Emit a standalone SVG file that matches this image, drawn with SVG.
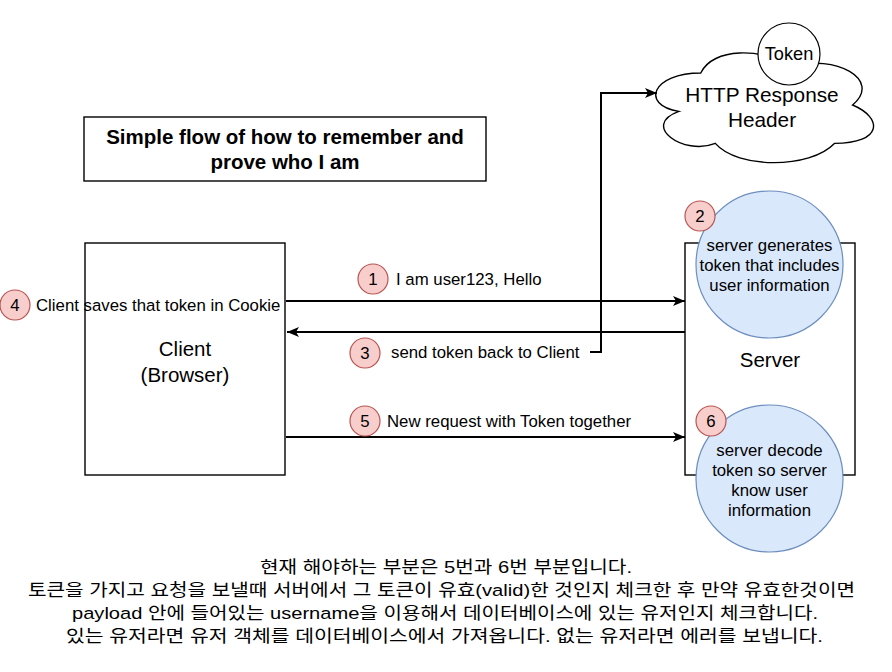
<svg xmlns="http://www.w3.org/2000/svg" width="892" height="672" viewBox="0 0 892 672">
<defs>
<marker id="arr" viewBox="0 0 12 10" refX="12" refY="5" markerWidth="12" markerHeight="10" markerUnits="userSpaceOnUse" orient="auto">
<path d="M0,0 L12,5 L0,10 L3,5 Z" fill="#000"/>
</marker>
</defs>
<style>
text{font-family:"Liberation Sans","Noto Sans CJK KR",Arial,sans-serif;fill:#000}
.box{fill:#fff;stroke:#000;stroke-width:1.4}
.node{font-size:20.5px;text-anchor:middle}
.lbl{font-size:16.8px}
.mid{text-anchor:middle}
.badge{fill:#f8cecc;stroke:#b85450;stroke-width:1.2}
.blue{fill:#dae8fc;stroke:#6c8ebf;stroke-width:1.2}
.edge{fill:none;stroke:#000;stroke-width:2}
.kr{font-size:16.8px;text-anchor:middle}
</style>
<rect width="892" height="672" fill="#fff"/>

<g id="title">
<rect class="box" x="84" y="117" width="402" height="64"/>
<text x="285" y="144" font-size="20.5" font-weight="bold" text-anchor="middle">Simple flow of how to remember and</text>
<text x="285" y="169" font-size="20.5" font-weight="bold" text-anchor="middle">prove who I am</text>
</g>

<g id="client">
<rect class="box" x="85" y="243" width="200" height="232"/>
<text class="node" x="185" y="356">Client</text>
<text class="node" x="185" y="382">(Browser)</text>
</g>

<g id="server">
<rect class="box" x="685" y="243" width="170" height="232"/>
<text class="node" x="770" y="367">Server</text>
</g>

<g id="cloud">
<path class="box" d="M 700.75 73 C 652.15 73 640 105 678.88 111.4 C 640 125.5 683.74 156.2 715.33 143.4 C 737.2 169 810.1 169 834.4 143.4 C 883 143.4 883 117.8 852.6 105 C 883 79.4 834.4 53.8 791.9 66.6 C 761.5 47.4 712.9 47.4 700.75 73 Z" stroke-width="1.2"/>
<text x="762" y="102" font-size="20.8" text-anchor="middle">HTTP Response</text>
<text x="762" y="127" font-size="20.8" text-anchor="middle">Header</text>
</g>

<g id="token">
<circle cx="789" cy="54" r="31" fill="#fff" stroke="#000" stroke-width="1.2"/>
<text x="789" y="60" font-size="18.2" text-anchor="middle">Token</text>
</g>

<g id="step2">
<circle class="blue" cx="769.5" cy="264.5" r="73.5"/>
<text class="lbl mid" x="769.5" y="251">server generates</text>
<text class="lbl mid" x="769.5" y="271">token that includes</text>
<text class="lbl mid" x="769.5" y="291">user information</text>
</g>

<g id="step6">
<circle class="blue" cx="769.5" cy="478.5" r="73.5"/>
<text class="lbl mid" x="769.5" y="456">server decode</text>
<text class="lbl mid" x="769.5" y="476">token so server</text>
<text class="lbl mid" x="769.5" y="496">know user</text>
<text class="lbl mid" x="769.5" y="516">information</text>
</g>

<g id="connectors">
<path class="edge" d="M 286 301 H 685" marker-end="url(#arr)"/>
<path class="edge" d="M 685 332 H 287" marker-end="url(#arr)"/>
<path class="edge" d="M 286 437 H 685" marker-end="url(#arr)"/>
<path class="edge" d="M 590 352 H 601 V 93 H 657" marker-end="url(#arr)"/>
</g>

<g id="label1">
<circle class="badge" cx="373" cy="279" r="15"/>
<text class="lbl mid" x="373" y="285">1</text>
<text class="lbl" x="396" y="285">I am user123, Hello</text>
</g>

<g id="label3">
<circle class="badge" cx="365" cy="353" r="15"/>
<text class="lbl mid" x="365" y="359">3</text>
<text class="lbl" x="391" y="358">send token back to Client</text>
</g>

<g id="label5">
<circle class="badge" cx="365" cy="421" r="15"/>
<text class="lbl mid" x="365" y="427">5</text>
<text class="lbl" x="387" y="427">New request with Token together</text>
</g>

<g id="label4">
<circle class="badge" cx="15" cy="305" r="15"/>
<text class="lbl mid" x="15" y="311">4</text>
<text class="lbl" x="36" y="311">Client saves that token in Cookie</text>
</g>

<g id="badge2">
<circle class="badge" cx="700" cy="216" r="15"/>
<text class="lbl mid" x="700" y="222">2</text>
</g>

<g id="badge6">
<circle class="badge" cx="711" cy="421" r="15"/>
<text class="lbl mid" x="711" y="427">6</text>
</g>

<g id="note">
<text class="kr" x="446" y="573" textLength="372" lengthAdjust="spacingAndGlyphs">현재 해야하는 부분은 5번과 6번 부분입니다.</text>
<text class="kr" x="441.5" y="596" textLength="827" lengthAdjust="spacingAndGlyphs">토큰을 가지고 요청을 보낼때 서버에서 그 토큰이 유효(valid)한 것인지 체크한 후 만약 유효한것이면</text>
<text class="kr" x="445" y="619" textLength="746" lengthAdjust="spacingAndGlyphs">payload 안에 들어있는 username을 이용해서 데이터베이스에 있는 유저인지 체크합니다.</text>
<text class="kr" x="444.5" y="642" textLength="757" lengthAdjust="spacingAndGlyphs">있는 유저라면 유저 객체를 데이터베이스에서 가져옵니다. 없는 유저라면 에러를 보냅니다.</text>
</g>
</svg>
